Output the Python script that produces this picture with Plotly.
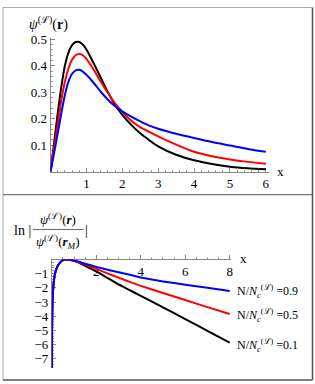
import plotly.graph_objects as go

# ---------------- data ----------------
top_x = [0, 0.1, 0.2, 0.3, 0.4, 0.5, 0.6, 0.7, 0.8, 0.9, 1.0, 1.2, 1.4, 1.6, 1.8, 2.0,
         2.25, 2.5, 2.75, 3.0, 3.5, 4.0, 4.5, 5.0, 5.5, 6.0]
top_black = [0, 0.11, 0.22, 0.32, 0.40, 0.45, 0.478, 0.49, 0.49, 0.48, 0.462, 0.41, 0.355,
             0.30, 0.252, 0.215, 0.177, 0.145, 0.119, 0.096, 0.064, 0.043, 0.029, 0.019, 0.013, 0.009]
top_red = [0, 0.09, 0.18, 0.27, 0.34, 0.39, 0.423, 0.44, 0.445, 0.44, 0.426, 0.386, 0.34,
           0.297, 0.258, 0.226, 0.192, 0.168, 0.15, 0.133, 0.102, 0.075, 0.058, 0.046, 0.037, 0.03]
top_blue = [0, 0.07, 0.145, 0.22, 0.29, 0.34, 0.37, 0.383, 0.385, 0.378, 0.366, 0.336, 0.302,
            0.272, 0.247, 0.228, 0.208, 0.19, 0.174, 0.162, 0.143, 0.127, 0.112, 0.099, 0.086, 0.075]

bot_x = [0.004, 0.01, 0.02, 0.04, 0.06, 0.09, 0.13, 0.2, 0.28, 0.4, 0.51, 0.62, 0.73, 0.85,
         1.0, 1.2, 1.5, 2.0, 2.5, 3.0, 3.5, 4.0, 5.0, 6.0, 7.0, 8.0]
bot_black = [-7.65, -5.0, -3.6, -2.6, -2.05, -1.55, -1.1, -0.7, -0.4, -0.17, -0.05, -0.01, 0,
             -0.03, -0.1, -0.22, -0.45, -0.84, -1.3, -1.76, -2.16, -2.56, -3.38, -4.2, -5.03, -5.86]
bot_red = [-7.65, -5.0, -3.6, -2.6, -2.05, -1.55, -1.1, -0.7, -0.4, -0.17, -0.05, -0.01, 0,
           -0.02, -0.08, -0.18, -0.36, -0.66, -0.98, -1.28, -1.58, -1.86, -2.36, -2.86, -3.36, -3.85]
bot_blue = [-7.65, -5.0, -3.6, -2.6, -2.05, -1.55, -1.1, -0.7, -0.4, -0.17, -0.05, -0.01, 0,
            -0.02, -0.07, -0.15, -0.3, -0.52, -0.72, -0.9, -1.08, -1.27, -1.55, -1.78, -2.0, -2.23]

top_xticks = [1, 2, 3, 4, 5, 6]
top_yticks = [0.1, 0.2, 0.3, 0.4, 0.5]
bot_xticks = [2, 4, 6, 8]
bot_yticks = [-1, -2, -3, -4, -5, -6, -7]
bot_yticktext = ["\u22121", "\u22122", "\u22123", "\u22124", "\u22125", "\u22126", "\u22127"]
labels = ["0.9", "0.5", "0.1"]

# ---------------- figure ----------------
W, H = 315, 384
def px(x):
    return x / W
def py(y):
    return 1 - y / H

SERIF = "Liberation Serif"
colors = ["black", "#ff0000", "#0000ff"]

fig = go.Figure()
for ys, c in zip([top_black, top_red, top_blue], colors):
    fig.add_trace(go.Scatter(x=top_x, y=ys, mode="lines", xaxis="x", yaxis="y",
                             line=dict(color=c, width=2, shape="spline", smoothing=0.8),
                             showlegend=False, hoverinfo="skip"))
for ys, c in zip([bot_black, bot_red, bot_blue], colors):
    fig.add_trace(go.Scatter(x=bot_x, y=ys, mode="lines", xaxis="x2", yaxis="y2",
                             line=dict(color=c, width=2, shape="spline", smoothing=0.5),
                             showlegend=False, hoverinfo="skip"))

tickfont = dict(family=SERIF, size=13, color="black")
axcommon = dict(showgrid=False, zeroline=False, showline=True, linecolor="#888888",
                linewidth=1, ticks="inside", ticklen=4, tickcolor="#888888", tickwidth=1,
                tickfont=tickfont, layer="below traces")

fig.update_layout(
    width=W, height=H, margin=dict(l=0, r=0, t=0, b=0),
    paper_bgcolor="white", plot_bgcolor="white", showlegend=False,
    xaxis=dict(domain=[px(50.7), px(270.3)], range=[0, 6.1], anchor="y",
               tickvals=top_xticks,
               minor=dict(dtick=0.2, tick0=0, ticks="inside", ticklen=2, tickcolor="#999999",
                          showgrid=False), **axcommon),
    yaxis=dict(domain=[py(168.3), py(32)], range=[0, 0.507], anchor="x",
               tickvals=top_yticks, ticktext=[f"{v:.1f}" for v in top_yticks],
               minor=dict(dtick=0.02, tick0=0, ticks="inside", ticklen=2, tickcolor="#999999",
                          showgrid=False), **axcommon),
    xaxis2=dict(domain=[px(52), px(232.2)], range=[0, 8.08], anchor="free",
                position=py(257.5), side="bottom", tickvals=bot_xticks,
                minor=dict(dtick=0.5, tick0=0, ticks="inside", ticklen=2, tickcolor="#999999",
                           showgrid=False), **axcommon),
    yaxis2=dict(domain=[py(367.7), py(257.5)], range=[-7.65, 0], anchor="x2",
                tickvals=bot_yticks, ticktext=bot_yticktext,
                minor=dict(dtick=0.2, tick0=0, ticks="inside", ticklen=2, tickcolor="#999999",
                           showgrid=False), **axcommon),
)

ann = []
def text(x, y, s, size=13, xanchor="center"):
    ann.append(dict(x=px(x), y=py(y), xref="paper", yref="paper", text=s, showarrow=False,
                    xanchor=xanchor, yanchor="middle",
                    font=dict(family=SERIF, size=size, color="black")))

# top panel labels
text(49, 18, "<i>\u03c8</i><sup>(\u2112)</sup>(<b>r</b>)", size=14)
text(281.5, 168, "x", size=13)
# bottom panel labels
text(23, 228, "ln |", size=14)
text(58, 216, "<i>\u03c8</i><sup>(\u2112)</sup>(<b><i>r</i></b>)", size=13)
text(58, 240, "<i>\u03c8</i><sup>(\u2112)</sup>(<b><i>r</i></b><sub><i>M</i></sub>)", size=13)
text(87, 228, "|", size=14)
text(244.5, 257, "x", size=13)
for lab, yy in zip(labels, [290, 314, 345]):
    text(301, yy, "N/<i>N</i><sub><i>c</i></sub><sup>(\u2112)</sup> =" + lab, size=12, xanchor="right")
fig.update_layout(annotations=ann)

shapes = [
    dict(type="line", xref="paper", yref="paper", x0=px(33), x1=px(84), y0=py(227), y1=py(227),
         line=dict(color="#666666", width=1)),
    dict(type="line", xref="paper", yref="paper", x0=px(3), x1=px(313.5), y0=py(1.5), y1=py(1.5),
         line=dict(color="#aaaaaa", width=1)),
    dict(type="line", xref="paper", yref="paper", x0=px(3), x1=px(3), y0=py(1.5), y1=py(380),
         line=dict(color="#aaaaaa", width=1)),
    dict(type="line", xref="paper", yref="paper", x0=px(313.5), x1=px(313.5), y0=py(1.5), y1=py(380),
         line=dict(color="#555555", width=1.5)),
    dict(type="line", xref="paper", yref="paper", x0=px(3), x1=px(313.5), y0=py(380), y1=py(380),
         line=dict(color="#555555", width=1.5)),
    dict(type="line", xref="paper", yref="paper", x0=px(3), x1=px(313.5), y0=py(191.7), y1=py(191.7),
         line=dict(color="#555555", width=1)),
]
fig.update_layout(shapes=shapes)

fig.write_html("out.html", config={"displayModeBar": False},
               post_script="document.body.style.margin='0px';document.body.style.overflow='hidden';")
